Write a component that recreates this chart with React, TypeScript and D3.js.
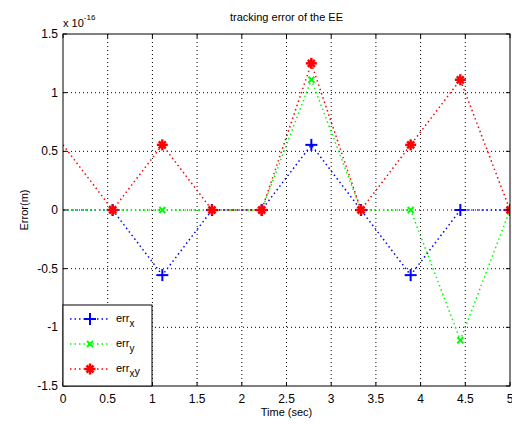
import React from "react";
import * as d3 from "d3";

const times = [0, 5 / 9, 10 / 9, 15 / 9, 20 / 9, 25 / 9, 30 / 9, 35 / 9, 40 / 9, 5];
const errX = [0, 0, -0.555, 0, 0, 0.555, 0, -0.555, 0, 0];
const errY = [0, 0, 0, 0, 0, 1.11, 0, 0, -1.11, 0];
const errXY = [0.555, 0, 0.555, 0, 0, 1.25, 0, 0.555, 1.11, 0];
const xTicks = [0, 0.5, 1, 1.5, 2, 2.5, 3, 3.5, 4, 4.5, 5];
const yTicks = [-1.5, -1, -0.5, 0, 0.5, 1, 1.5];
const xTickLabels = ["0", "0.5", "1", "1.5", "2", "2.5", "3", "3.5", "4", "4.5", "5"];
const yTickLabels = ["-1.5", "-1", "-0.5", "0", "0.5", "1", "1.5"];

const L = 63, R = 510, T = 34, B = 386;
const FONT = "Liberation Sans, Arial, sans-serif";

type Marker = "plus" | "x" | "star";

function MarkerShape({ type, color, x, y }: { type: Marker; color: string; x: number; y: number }) {
  if (type === "plus") {
    return (
      <g stroke={color} strokeWidth={2}>
        <line x1={x - 6} x2={x + 6} y1={y} y2={y} />
        <line x1={x} x2={x} y1={y - 6} y2={y + 6} />
      </g>
    );
  }
  if (type === "x") {
    return (
      <g stroke={color} strokeWidth={2}>
        <line x1={x - 3} x2={x + 3} y1={y - 3} y2={y + 3} />
        <line x1={x - 3} x2={x + 3} y1={y + 3} y2={y - 3} />
      </g>
    );
  }
  return (
    <g stroke={color} strokeWidth={2.5}>
      <line x1={x - 5.5} x2={x + 5.5} y1={y} y2={y} />
      <line x1={x} x2={x} y1={y - 5.5} y2={y + 5.5} />
      <line x1={x - 3.5} x2={x + 3.5} y1={y - 3.5} y2={y + 3.5} />
      <line x1={x - 3.5} x2={x + 3.5} y1={y + 3.5} y2={y - 3.5} />
    </g>
  );
}

export default function App() {
  const x = d3.scaleLinear().domain([0, 5]).range([L, R]);
  const y = d3.scaleLinear().domain([-1.5, 1.5]).range([B, T]);
  const series: { vals: number[]; color: string; marker: Marker }[] = [
    { vals: errX, color: "#0000ff", marker: "plus" },
    { vals: errY, color: "#00ff00", marker: "x" },
    { vals: errXY, color: "#ff0000", marker: "star" },
  ];
  const line = d3.line<number>().x((_, i) => x(times[i])).y((d) => y(d));
  const legendRows = [
    { color: "#0000ff", marker: "plus" as Marker, sub: "x", tail: "" },
    { color: "#00ff00", marker: "x" as Marker, sub: "y", tail: "" },
    { color: "#ff0000", marker: "star" as Marker, sub: "x", tail: "y" },
  ];
  return (
    <svg width={512} height={424} style={{ position: "absolute", left: 0, top: 0, background: "#fff" }} fontFamily={FONT}>
      <defs>
        <clipPath id="plotclip">
          <rect x={L} y={T} width={R - L} height={B - T} />
        </clipPath>
      </defs>
      <rect x={0} y={0} width={512} height={424} fill="#fff" />
      <g stroke="#000" strokeWidth={1} strokeDasharray="1,3">
        {xTicks.slice(1, -1).map((t) => (
          <line key={"gx" + t} x1={x(t)} x2={x(t)} y1={T} y2={B} />
        ))}
        {yTicks.slice(1, -1).map((t) => (
          <line key={"gy" + t} x1={L} x2={R} y1={y(t)} y2={y(t)} />
        ))}
      </g>
      <g clipPath="url(#plotclip)">
        {series.map((s, si) => (
          <path key={"l" + si} d={line(s.vals) || ""} fill="none" stroke={s.color} strokeWidth={1.5} strokeDasharray="1.5,3" />
        ))}
        {series.map((s, si) =>
          s.vals.map((v, i) =>
            i === 0 ? null : <MarkerShape key={"m" + si + "-" + i} type={s.marker} color={s.color} x={x(times[i])} y={y(v)} />
          )
        )}
      </g>
      <rect x={L} y={T} width={R - L} height={B - T} fill="none" stroke="#000" strokeWidth={1} />
      <g stroke="#000" strokeWidth={1}>
        {xTicks.map((t) => (
          <g key={"tx" + t}>
            <line x1={x(t)} x2={x(t)} y1={B} y2={B - 4} />
            <line x1={x(t)} x2={x(t)} y1={T} y2={T + 4} />
          </g>
        ))}
        {yTicks.map((t) => (
          <g key={"ty" + t}>
            <line x1={L} x2={L + 4} y1={y(t)} y2={y(t)} />
            <line x1={R} x2={R - 4} y1={y(t)} y2={y(t)} />
          </g>
        ))}
      </g>
      <g fontSize={12} fill="#000">
        {xTicks.map((t, i) => (
          <text key={"xl" + t} x={x(t)} y={B + 17} textAnchor="middle">{xTickLabels[i]}</text>
        ))}
        {yTicks.map((t, i) => (
          <text key={"yl" + t} x={L - 5} y={y(t) + 4} textAnchor="end">{yTickLabels[i]}</text>
        ))}
      </g>
      <text x={L} y={27} fontSize={11} fill="#000">
        x 10
        <tspan fontSize={8} dy={-7}>-16</tspan>
      </text>
      <text x={(L + R) / 2} y={21} fontSize={11} textAnchor="middle" fill="#000">tracking error of the EE</text>
      <text x={(L + R) / 2} y={416} fontSize={11} textAnchor="middle" fill="#000">Time (sec)</text>
      <text transform={`translate(28,${(T + B) / 2}) rotate(-90)`} fontSize={11} textAnchor="middle" fill="#000">Error(m)</text>
      <rect x={L} y={305} width={89} height={B - 305} fill="#fff" stroke="#000" strokeWidth={1} />
      {legendRows.map((r, i) => {
        const ly = 319 + i * 25;
        return (
          <g key={"lg" + i}>
            <line x1={70} x2={108} y1={ly} y2={ly} stroke={r.color} strokeWidth={1.5} strokeDasharray="1.5,3" />
            <MarkerShape type={r.marker} color={r.color} x={90} y={ly} />
            <text x={116} y={ly + 3} fontSize={11} fill="#000">
              err
              <tspan fontSize={10} dy={5}>{r.sub}</tspan>
              {r.tail ? <tspan fontSize={11} dy={-2}>{r.tail}</tspan> : null}
            </text>
          </g>
        );
      })}
    </svg>
  );
}
